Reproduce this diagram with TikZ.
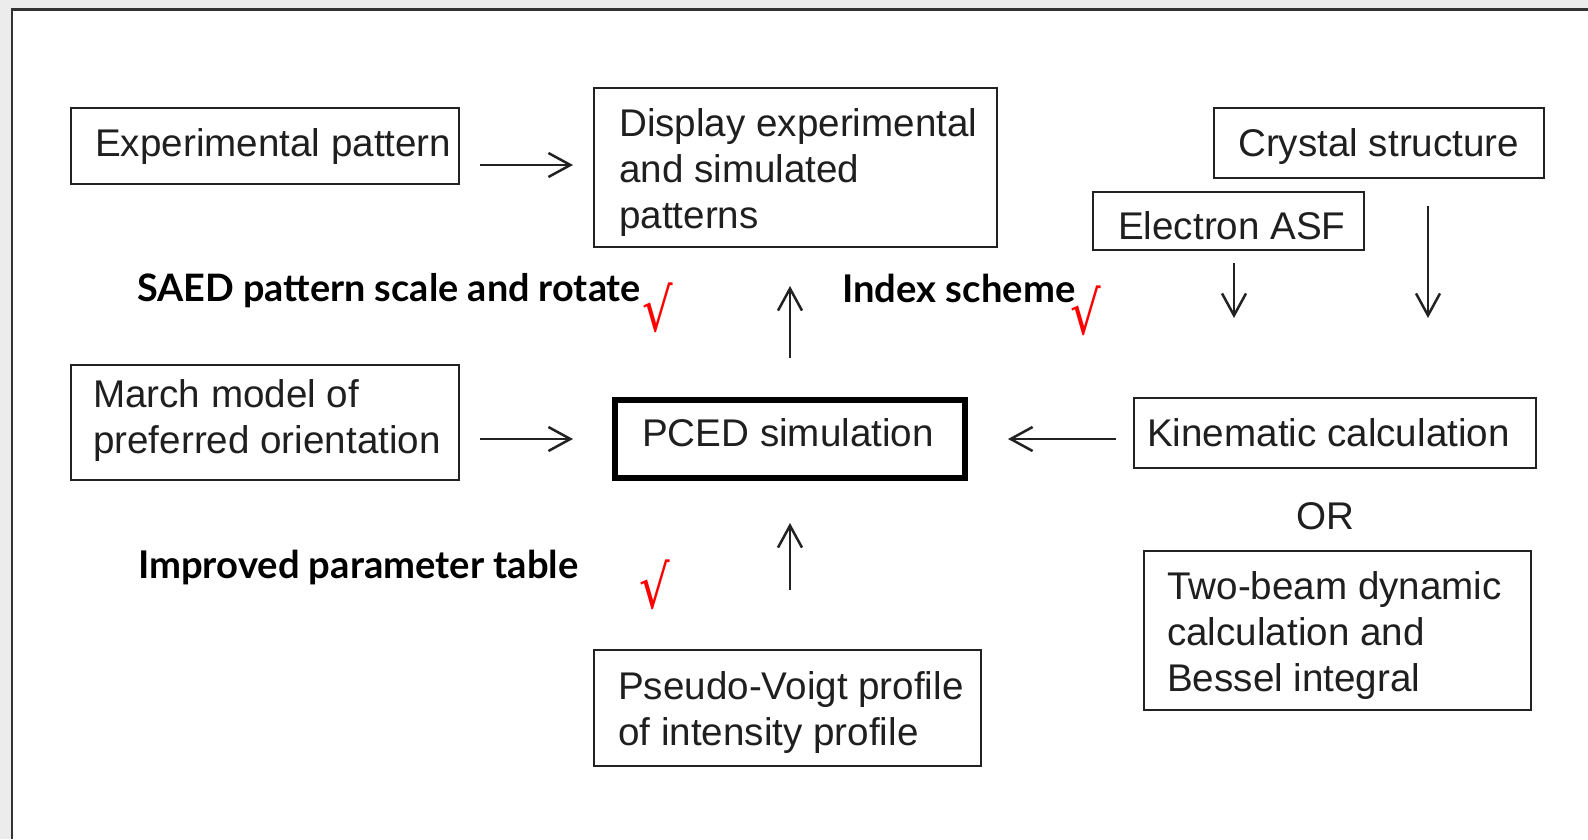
\documentclass[tikz,border=0pt]{standalone}
\usepackage{fontspec}
\setmainfont{Liberation Sans}
\newfontfamily\lblfont{Lato}
\newfontfamily\chkfont{DejaVu Sans}
\usetikzlibrary{arrows.meta}
\definecolor{linegray}{HTML}{222222}
\definecolor{framegray}{HTML}{333333}
\definecolor{outgray}{HTML}{ECECEC}
\definecolor{chkred}{HTML}{FF0000}
\begin{document}
\begin{tikzpicture}[x=1pt,y=-1pt,
  box/.style={draw=linegray, line width=2pt, inner sep=0pt, anchor=north west},
  thickbox/.style={draw=black, line width=6pt, inner sep=0pt, anchor=north west},
  txt/.style={inner sep=0pt, anchor=west, align=left, font=\fontsize{38.6}{46}\selectfont, text=black!88},
  lbl/.style={inner sep=0pt, anchor=base west, font=\lblfont\bfseries\fontsize{38.2}{44}\selectfont},
  chk/.style={inner sep=0pt, text=chkred, xscale=0.8, transform shape, font=\chkfont\fontsize{60}{60}\selectfont},
  arr/.style={draw=linegray, line width=2.5pt, -{Straight Barb[length=22pt,width=24pt,line width=2.5pt]}}
]
\useasboundingbox (0,0) rectangle (1588,839);
\fill[white] (0,0) rectangle (1588,839);
\fill[outgray] (0,0) rectangle (10.5,839);
\fill[outgray] (10.5,0) rectangle (1588,8);
\draw[framegray, line width=2.7pt] (12,839) -- (12,9.3) -- (1588,9.3);

% boxes
\node[box, minimum width=388pt, minimum height=76pt] (exp) at (70,107) {};
\node[txt] (expt) at ([xshift=25pt,yshift=-1pt]exp.west) {Experimental pattern};

\node[box, minimum width=403pt, minimum height=159pt] (disp) at (593,87) {};
\node[txt] (dispt) at ([xshift=26pt,yshift=-5pt]disp.west) {Display experimental\\and simulated\\patterns};

\node[box, minimum width=330pt, minimum height=70pt] (cry) at (1213,106.5) {};
\node[txt] (cryt) at ([xshift=25pt,yshift=-4pt]cry.west) {Crystal structure};

\node[box, minimum width=271pt, minimum height=58pt] (asf) at (1092,191) {};
\node[txt] (asft) at ([xshift=26pt,yshift=-5pt]asf.west) {Electron ASF};

\node[box, minimum width=388pt, minimum height=115pt] (march) at (70,364) {};
\node[txt] (marcht) at ([xshift=23pt,yshift=2pt]march.west) {March model of\\preferred orientation};

\node[thickbox, minimum width=350pt, minimum height=78pt] (pced) at (612,397) {};
\node[txt, anchor=center] (pcedt) at ([xshift=-2pt,yshift=6pt]pced.center) {PCED simulation};

\node[box, minimum width=402pt, minimum height=70pt] (kin) at (1133,397) {};
\node[txt] (kint) at ([xshift=14pt]kin.west) {Kinematic calculation};

\node[txt, anchor=center] (or) at (1325,516) {OR};

\node[box, minimum width=387pt, minimum height=159pt] (two) at (1143,550) {};
\node[txt] (twot) at ([xshift=24pt,yshift=-5pt]two.west) {Two-beam dynamic\\calculation and\\Bessel integral};

\node[box, minimum width=387pt, minimum height=116pt] (pseudo) at (593,649) {};
\node[txt] (pseudot) at ([xshift=25pt,yshift=-5pt]pseudo.west) {Pseudo-Voigt profile\\of intensity profile};

% labels
\node[lbl, font=\lblfont\bfseries\fontsize{37.8}{44}\selectfont] (saed) at (137,301) {SAED pattern scale and rotate};
\node[lbl] (idx) at (842,302) {Index scheme};
\node[lbl] (impr) at (138,578) {Improved parameter table};

\node[chk] (c1) at (658,308) {√};
\node[chk] (c2) at (1086,311) {√};
\node[chk] (c3) at (655,585) {√};

% arrows
\draw[arr, shorten <=20pt, shorten >=20pt] ([yshift=-19pt]exp.east) -- ([yshift=-19pt]exp.east -| disp.west);
\draw[arr, shorten <=20pt, shorten >=39pt] (march.east |- pced.west) -- (pced.west);
\draw[arr, shorten <=17pt, shorten >=40pt] (kin.west |- pced.east) -- (pced.east);
\draw[arr, shorten <=39pt, shorten >=38pt] (pced.north) -- (pced.north |- disp.south);
\draw[arr, shorten <=59pt, shorten >=42pt] (pced.south |- pseudo.north) -- (pced.south);
\draw[arr, shorten <=12pt, shorten >=79pt] ([xshift=5.5pt]asf.south) -- ([xshift=5.5pt]asf.south |- kin.north);
\draw[arr, shorten <=27pt, shorten >=79pt] ([xshift=49pt]cry.south) -- ([xshift=49pt]cry.south |- kin.north);
\end{tikzpicture}
\end{document}
